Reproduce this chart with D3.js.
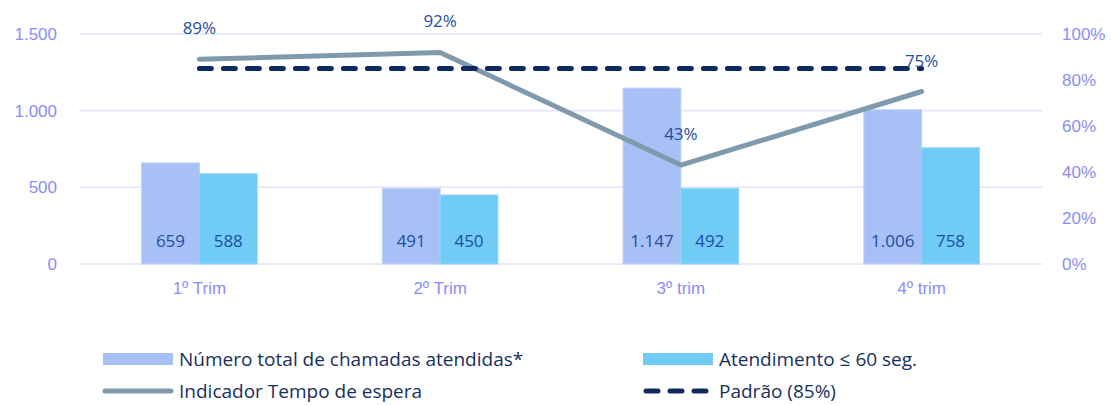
<!DOCTYPE html>
<html>
<head>
<meta charset="utf-8">
<script src="https://cdn.jsdelivr.net/npm/d3@7"></script>
<style>
  body { margin: 0; background: #fff; }
  svg { font-family: "Open Sans", Lato, sans-serif; }
</style>
</head>
<body>
<svg id="chart" width="1111" height="405"></svg>
<script>
// data
const categories = ["1º Trim", "2º Trim", "3º trim", "4º trim"];
const totalCalls = [659, 491, 1147, 1006];
const within60 = [588, 450, 492, 758];
const waitIndicator = [0.89, 0.92, 0.43, 0.75];
const standard = [0.85, 0.85, 0.85, 0.85];
const leftTicks = [0, 500, 1000, 1500];
const rightTicks = [0, 0.2, 0.4, 0.6, 0.8, 1];

const seriesNames = ["Número total de chamadas atendidas*", "Atendimento ≤ 60 seg.", "Indicador Tempo de espera", "Padrão (85%)"];
const barColors = ["#a7c0f5", "#70cbf5"];
const lineColor = "#7f9aad";
const dashColor = "#0e2a5e";
const axisText = "#8c8cf8";
const labelColor = "#1f4ea6";

const svg = d3.select("#chart");
const marginLeft = 79, plotRight = 1042, marginTop = 34, plotBottom = 264;

const xScale = d3.scaleBand().domain(categories).range([marginLeft, plotRight]).paddingInner(0.52).paddingOuter(0.26);
const xSub = d3.scaleBand().domain([0, 1]).range([0, xScale.bandwidth()]);
const yScale = d3.scaleLinear().domain([0, 1500]).range([plotBottom, marginTop]);
const yScaleRev = d3.scaleLinear().domain([0, 1]).range([plotBottom, marginTop]);

// gridlines
svg.selectAll(".grid")
  .data(leftTicks)
  .enter()
  .append("line")
  .attr("class", "grid")
  .attr("x1", marginLeft)
  .attr("x2", plotRight)
  .attr("y1", (d) => yScale(d))
  .attr("y2", (d) => yScale(d))
  .attr("stroke", "#e3e3fa")
  .attr("stroke-width", 1.5);

const fmt = (v) => d3.format(",")(v).replace(/,/g, ".");

// left axis
const leftAxis = svg.append("g")
  .attr("transform", `translate(${marginLeft - 22},0)`)
  .call(d3.axisLeft(yScale).tickValues(leftTicks).tickSize(0).tickPadding(0).tickFormat(fmt));
leftAxis.select(".domain").remove();
leftAxis.selectAll("text").attr("fill", axisText).attr("font-size", 17);

// right axis
const rightAxis = svg.append("g")
  .attr("transform", `translate(${plotRight + 20},0)`)
  .call(d3.axisRight(yScaleRev).tickValues(rightTicks).tickSize(0).tickPadding(0)
    .tickFormat(d3.format(".0%")));
rightAxis.select(".domain").remove();
rightAxis.selectAll("text").attr("fill", axisText).attr("font-size", 17);

// x axis
const xAxis = svg.append("g")
  .attr("transform", `translate(0,${plotBottom + 18})`)
  .call(d3.axisBottom(xScale).tickSize(0).tickPadding(0));
xAxis.select(".domain").remove();
xAxis.selectAll("text").attr("fill", axisText).attr("font-size", 17);

// bars
const barData = categories.flatMap((c, i) => [
  { cat: c, s: 0, v: totalCalls[i] },
  { cat: c, s: 1, v: within60[i] },
]);

svg.selectAll(".bar")
  .data(barData)
  .enter()
  .append("rect")
  .attr("class", "bar")
  .attr("x", (d) => xScale(d.cat) + xSub(d.s))
  .attr("y", (d) => yScale(d.v))
  .attr("width", xSub.bandwidth())
  .attr("height", (d) => plotBottom - yScale(d.v))
  .attr("fill", (d) => barColors[d.s])
  .attr("stroke", (d) => (d.s === 0 ? "#bcd0fa" : "#8ad6f8"))
  .attr("stroke-width", 1);

svg.selectAll(".barLabel")
  .data(barData)
  .enter()
  .append("text")
  .attr("class", "barLabel")
  .attr("x", (d) => xScale(d.cat) + xSub(d.s) + xSub.bandwidth() / 2)
  .attr("y", plotBottom - 17)
  .attr("text-anchor", "middle")
  .attr("fill", labelColor)
  .attr("font-size", 17)
  .text((d) => fmt(d.v));

// lines
const cx = (i) => xScale(categories[i]) + xScale.bandwidth() / 2;
const line = d3.line().x((d, i) => cx(i)).y((d) => yScaleRev(d));

svg.append("path")
  .datum(waitIndicator)
  .attr("d", line)
  .attr("fill", "none")
  .attr("stroke", lineColor)
  .attr("stroke-width", 5)
  .attr("stroke-linecap", "round")
  .attr("stroke-linejoin", "round");

svg.append("path")
  .datum(standard)
  .attr("d", line)
  .attr("fill", "none")
  .attr("stroke", dashColor)
  .attr("stroke-width", 5)
  .attr("stroke-linecap", "round")
  .attr("stroke-dasharray", "12,12");

svg.selectAll(".pctLabel")
  .data(waitIndicator)
  .enter()
  .append("text")
  .attr("class", "pctLabel")
  .attr("x", (d, i) => cx(i))
  .attr("y", (d) => yScaleRev(d) - 25)
  .attr("text-anchor", "middle")
  .attr("fill", labelColor)
  .attr("font-size", 17)
  .text((d) => d3.format(".0%")(d));

// legend
const legendPos = [[103, 359], [643, 359], [103, 391], [643, 391]];
const legend = svg.selectAll(".legendItem")
  .data(seriesNames)
  .enter()
  .append("g")
  .attr("class", "legendItem")
  .attr("transform", (d, i) => `translate(${legendPos[i][0]},${legendPos[i][1]})`);

legend.each(function (d, i) {
  const g = d3.select(this);
  if (i < 2) {
    g.append("rect").attr("x", 0).attr("y", -6).attr("width", 70).attr("height", 12).attr("fill", barColors[i]);
  } else if (i === 2) {
    g.append("line").attr("x1", 2).attr("x2", 68).attr("y1", 0).attr("y2", 0)
      .attr("stroke", lineColor).attr("stroke-width", 5).attr("stroke-linecap", "round");
  } else {
    g.append("line").attr("x1", 3).attr("x2", 70).attr("y1", 0).attr("y2", 0)
      .attr("stroke", dashColor).attr("stroke-width", 5).attr("stroke-linecap", "round")
      .attr("stroke-dasharray", "12,12");
  }
  g.append("text")
    .attr("x", 76)
    .attr("y", 0)
    .attr("dy", "0.35em")
    .attr("fill", "#16305e")
    .attr("font-size", 19)
    .text(d);
});
</script>
</body>
</html>
